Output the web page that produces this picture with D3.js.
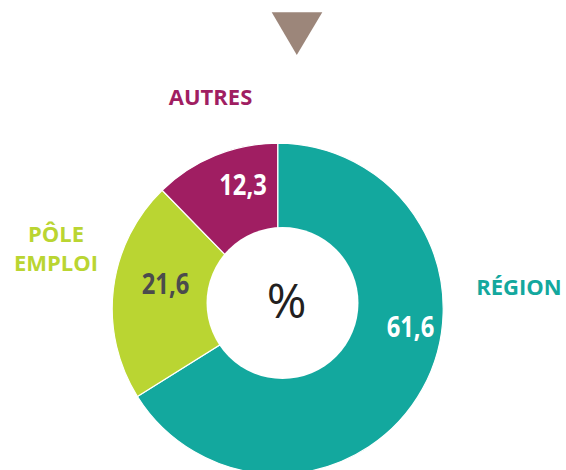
<!DOCTYPE html>
<html lang="fr">
<head>
  <meta charset="UTF-8">
  <title>Répartition en %</title>
  <style>
    body { margin: 0; background: #fff; }
    svg { display: block; }
  </style>
</head>
<body>
  <svg class="donut"></svg>
  <script src="https://cdn.jsdelivr.net/npm/d3@7"></script>
  <script>
    // data
    var categories = ["RÉGION", "PÔLE EMPLOI", "AUTRES"],
        values = [61.6, 21.6, 12.3],
        valueLabels = ["61,6", "21,6", "12,3"],
        colors = ["#13a89e", "#bad532", "#a01e62"],
        valueColors = ["#fff", "#4b4b4d", "#fff"];

    var w = 566,
        h = 470,
        cx = 277.7,
        cy = 308.7,
        outerR = 165.5,
        holeX = 282.5,
        holeY = 303,
        holeR = 76;

    // where the value and name labels sit (degrees clockwise from 12 o'clock / px)
    var valuePos = [{a: 97.8, r: 134}, {a: -77.4, r: 115}, {a: -15.6, r: 129}],
        namePos = [
          {x: 519, y: [295]},
          {x: 56, y: [241.7, 270.7]},
          {x: 210.5, y: [105]}
        ];

    var svg = d3.select(".donut")
      .attr("width", w)
      .attr("height", h);

    // triangle marker at the top
    svg.append("path")
      .attr("d", d3.line()([[271.7, 12.3], [322.3, 12.3], [296.8, 55]]) + "Z")
      .attr("fill", "#9c867a");

    // slices are drawn counter-clockwise from 12 o'clock, on a scale of 100;
    // the first category fills what is left of the turn
    var angle = d3.scaleLinear().domain([0, 100]).range([0, -2 * Math.PI]);
    var slices = [];
    var acc = 0;
    for (var i = values.length - 1; i > 0; i--) {
      slices[i] = {start: angle(acc), end: angle(acc + values[i])};
      acc += values[i];
    }
    slices[0] = {start: angle(acc), end: angle(100)};

    var arc = d3.arc()
      .innerRadius(0)
      .outerRadius(outerR)
      .startAngle(d => d.start)
      .endAngle(d => d.end);

    var g = svg.append("g").attr("transform", `translate(${cx},${cy})`);

    g.selectAll("path.slice")
      .data(slices)
      .enter()
      .append("path")
        .attr("class", "slice")
        .attr("d", arc)
        .attr("fill", (d, i) => colors[i])
        .attr("stroke", "#fff")
        .attr("stroke-width", 1.2);

    // the hole
    svg.append("circle")
      .attr("cx", holeX)
      .attr("cy", holeY)
      .attr("r", holeR)
      .attr("fill", "#fff");

    svg.append("text")
      .text("%")
      .attr("x", 286.7)
      .attr("y", 318)
      .attr("text-anchor", "middle")
      .attr("font-family", "Open Sans, sans-serif")
      .attr("font-size", 48)
      .attr("fill", "#231f20");

    // value labels
    var labelArc = d3.arc();
    g.selectAll("text.value")
      .data(values)
      .enter()
      .append("text")
        .attr("class", "value")
        .text((d, i) => valueLabels[i])
        .attr("transform", (d, i) => {
          var p = valuePos[i],
              a = p.a * Math.PI / 180,
              c = labelArc.centroid({innerRadius: p.r, outerRadius: p.r, startAngle: a, endAngle: a});
          // the original face is narrower than Open Sans
          return `translate(${c[0]},${c[1]}) scale(0.82,1)`;
        })
        .attr("dy", "0.36em")
        .attr("text-anchor", "middle")
        .attr("font-family", "Open Sans, sans-serif")
        .attr("font-weight", "bold")
        .attr("font-size", 29)
        .attr("fill", (d, i) => valueColors[i]);

    // category names
    categories.forEach((name, i) => {
      var lines = name === "PÔLE EMPLOI" ? ["PÔLE", "EMPLOI"] : [name];
      lines.forEach((line, j) => {
        svg.append("text")
          .text(line)
          .attr("x", namePos[i].x)
          .attr("y", namePos[i].y[j])
          .attr("text-anchor", "middle")
          .attr("font-family", "Open Sans, sans-serif")
          .attr("font-weight", "bold")
          .attr("font-size", 22)
          .attr("fill", colors[i]);
      });
    });
  </script>
</body>
</html>
